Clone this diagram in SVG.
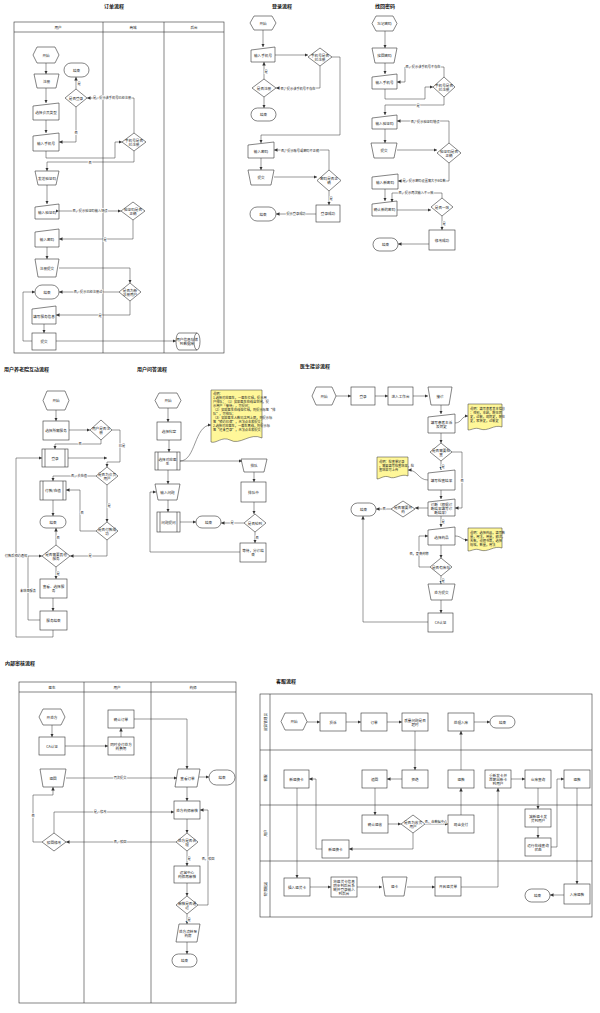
<svg xmlns="http://www.w3.org/2000/svg" width="600" height="1013" viewBox="0 0 600 1013">
<style>
.n{fill:#fff;stroke:#333;stroke-width:.6}
.y{fill:#fff799;stroke:#333;stroke-width:.5}
.s{fill:none;stroke:#333;stroke-width:.6}
.t{font-family:"Noto Sans CJK SC","Noto Sans",sans-serif;font-size:3.6px;text-anchor:middle;dominant-baseline:central;fill:#222}
.tl{font-family:"Noto Sans CJK SC","Noto Sans",sans-serif;font-size:3.2px;dominant-baseline:central;fill:#222}
.h{font-family:"Noto Sans CJK SC","Noto Sans",sans-serif;font-size:5px;font-weight:bold;fill:#111}
.c path{fill:none;stroke:#333;stroke-width:.5;marker-end:url(#a)}
.c text{font-family:"Noto Sans CJK SC","Noto Sans",sans-serif;font-size:3.2px;text-anchor:middle;dominant-baseline:central;fill:#222;paint-order:stroke;stroke:#fff;stroke-width:1.2px}
</style>
<defs><marker id="a" viewBox="0 0 6 6" refX="6" refY="3" markerWidth="3.5" markerHeight="3.5" markerUnits="userSpaceOnUse" orient="auto"><path d="M0 0L6 3L0 6z" fill="#333"/></marker></defs>
<rect width="600" height="1013" fill="#fff"/>

<!-- Titles -->
<text class="h" x="104" y="8">订单流程</text>
<text class="h" x="272" y="8">登录流程</text>
<text class="h" x="375" y="8">找回密码</text>
<text class="h" x="4" y="371">用户养老院互动流程</text>
<text class="h" x="137" y="371">用户问答流程</text>
<text class="h" x="300" y="368">医生接诊流程</text>
<text class="h" x="5" y="665">内部审核流程</text>
<text class="h" x="276" y="683">客服流程</text>

<!-- Swimlanes -->
<g id="lanes-order" class="s">
<rect x="14" y="22" width="210" height="331"/><line x1="14" y1="32" x2="224" y2="32"/><line x1="103" y1="22" x2="103" y2="353"/><line x1="164" y1="22" x2="164" y2="353"/>
</g>
<text class="t" x="58" y="27">用户</text><text class="t" x="133" y="27">商城</text><text class="t" x="194" y="27">后台</text>
<g id="lanes-audit" class="s">
<rect x="19" y="682" width="217" height="321"/><line x1="19" y1="692" x2="236" y2="692"/><line x1="84" y1="682" x2="84" y2="1003"/><line x1="151" y1="682" x2="151" y2="1003"/>
</g>
<text class="t" x="52" y="687">医生</text><text class="t" x="117" y="687">用户</text><text class="t" x="193" y="687">药师</text>
<g id="lanes-service" class="s">
<rect x="260" y="694" width="332" height="223"/><line x1="270" y1="694" x2="270" y2="917"/><line x1="260" y1="750" x2="592" y2="750"/><line x1="260" y1="805" x2="592" y2="805"/><line x1="260" y1="861" x2="592" y2="861"/>
</g>
<text class="t" transform="translate(265 722) rotate(-90)">运营管理员</text>
<text class="t" transform="translate(265 778) rotate(-90)">客服</text>
<text class="t" transform="translate(265 833) rotate(-90)">用户</text>
<text class="t" transform="translate(265 889) rotate(-90)">物流配送</text>

<!-- ===== 订单流程 nodes ===== -->
<g id="o-start"><polygon class="n" points="37,47 55,47 59,55 55,63 37,63 33,55"/><text class="t" x="46" y="55">开始</text></g>
<g id="o-reg"><polygon class="n" points="34,74 59,74 56,88 37,88"/><text class="t" x="46.5" y="81">注册</text></g>
<g id="o-type"><polygon class="n" points="33,106 59,103 59,120 33,120"/><text class="t" x="46" y="112.5">选择会员类型</text></g>
<g id="o-phone"><polygon class="n" points="33,136 59,133 59,151 33,151"/><text class="t" x="46" y="143">输入手机号</text></g>
<g id="o-end1"><rect class="n" x="64" y="63" width="25" height="14" rx="7"/><text class="t" x="76.5" y="70">结束</text></g>
<g id="o-login"><polygon class="n" points="76,89 87,98 76,107 65,98"/><text class="t" x="76" y="98">是否登录</text></g>
<g id="o-regd"><polygon class="n" points="134,133 146,142 134,151 122,142"/><text class="t" x="134" y="140">手机号是否</text><text class="t" x="134" y="144">已注册</text></g>
<g id="o-send"><polygon class="n" points="35,171 59,171 56,185 38,185"/><text class="t" x="47" y="178">发送验证码</text></g>
<g id="o-code"><polygon class="n" points="35,207 59,204 59,219 35,219"/><text class="t" x="47" y="212">输入验证码</text></g>
<g id="o-codeok"><polygon class="n" points="133,202 145,211 133,220 121,211"/><text class="t" x="133" y="209">验证码是否</text><text class="t" x="133" y="213">正确</text></g>
<g id="o-pwd"><polygon class="n" points="35,232 59,229 59,247 35,247"/><text class="t" x="47" y="239">输入密码</text></g>
<g id="o-submit"><polygon class="n" points="35,259 59,259 56,277 38,277"/><text class="t" x="47" y="268">注册提交</text></g>
<g id="o-new"><polygon class="n" points="130,283 141,292 130,301 119,292"/><text class="t" x="130" y="290">是否为新</text><text class="t" x="130" y="294">注册用户</text></g>
<g id="o-end2"><rect class="n" x="35" y="285" width="24" height="14" rx="7"/><text class="t" x="47" y="292">结束</text></g>
<g id="o-fill"><polygon class="n" points="32,309 56,306 56,324 32,324"/><text class="t" x="44" y="316">填写服务信息</text></g>
<g id="o-post"><rect class="n" x="32" y="333" width="24" height="17"/><text class="t" x="44" y="341.5">提交</text></g>
<g id="o-db"><path class="n" d="M179 333 H197 A3 8.5 0 0 1 197 350 H179 A3 8.5 0 0 1 179 333Z"/><path class="s" d="M197 333 A3 8.5 0 0 0 197 350"/><text class="t" x="187" y="339.5">用户信息存储</text><text class="t" x="187" y="343.5">到数据库</text></g>

<!-- ===== 登录流程 ===== -->
<g id="l-start"><polygon class="n" points="254,16 272,16 276,23 272,30 254,30 250,23"/><text class="t" x="263" y="23">开始</text></g>
<g id="l-phone"><polygon class="n" points="251,50 275,47 275,62 251,62"/><text class="t" x="263" y="55.5">输入手机号</text></g>
<g id="l-regd"><polygon class="n" points="320,48 332,57 320,66 308,57"/><text class="t" x="320" y="55">手机号是否</text><text class="t" x="320" y="59">已注册</text></g>
<g id="l-isreg"><polygon class="n" points="264,79 276,88 264,97 252,88"/><text class="t" x="264" y="88">是否注册</text></g>
<g id="l-end1"><rect class="n" x="251" y="108" width="25" height="13" rx="6.5"/><text class="t" x="263.5" y="114.5">结束</text></g>
<g id="l-pwd"><polygon class="n" points="248,145 274,142 274,158 248,158"/><text class="t" x="261" y="151">输入密码</text></g>
<g id="l-sub"><polygon class="n" points="248,170 274,170 271,185 251,185"/><text class="t" x="261" y="177.5">提交</text></g>
<g id="l-ok"><polygon class="n" points="329,170 341,180.5 329,191 317,180.5"/><text class="t" x="329" y="178.5">密码是否正</text><text class="t" x="329" y="182.5">确</text></g>
<g id="l-succ"><rect class="n" x="316" y="205" width="24" height="17"/><text class="t" x="328" y="213.5">登录成功</text></g>
<g id="l-end2"><rect class="n" x="250" y="207" width="26" height="14" rx="7"/><text class="t" x="263" y="214">结束</text></g>

<!-- ===== 找回密码 ===== -->
<g id="f-start"><polygon class="n" points="376,16 393,16 397,23.5 393,31 376,31 372,23.5"/><text class="t" x="384.5" y="23.5">忘记密码</text></g>
<g id="f-find"><polygon class="n" points="372,48 397,48 394,63 375,63"/><text class="t" x="384.5" y="55.5">找回密码</text></g>
<g id="f-phone"><polygon class="n" points="372,77 397,74 397,89 372,89"/><text class="t" x="384.5" y="82.5">输入手机号</text></g>
<g id="f-regd"><polygon class="n" points="444,77 455,87 444,97 433,87"/><text class="t" x="444" y="85">手机号是否</text><text class="t" x="444" y="89">已注册</text></g>
<g id="f-code"><polygon class="n" points="372,118 397,115 397,129 372,129"/><text class="t" x="384.5" y="123">输入验证码</text></g>
<g id="f-sub"><polygon class="n" points="371,143 397,143 394,158 374,158"/><text class="t" x="384" y="150.5">提交</text></g>
<g id="f-ok"><polygon class="n" points="449,143 461,153 449,163 437,153"/><text class="t" x="449" y="151">验证码是否</text><text class="t" x="449" y="155">正确</text></g>
<g id="f-new"><polygon class="n" points="372,177 398,174 398,189 372,189"/><text class="t" x="385" y="182.5">输入新密码</text></g>
<g id="f-conf"><polygon class="n" points="372,204 397,201 397,216 372,216"/><text class="t" x="384.5" y="209.5">确认新的密码</text></g>
<g id="f-same"><polygon class="n" points="442,198 453,207 442,216 431,207"/><text class="t" x="442" y="207">是否一致</text></g>
<g id="f-succ"><rect class="n" x="429" y="230" width="26" height="20"/><text class="t" x="442" y="240">修改成功</text></g>
<g id="f-end"><rect class="n" x="373" y="238" width="25" height="13" rx="6.5"/><text class="t" x="385.5" y="244.5">结束</text></g>

<!-- ===== 用户养老院互动流程 ===== -->
<g id="h-start"><polygon class="n" points="47,391 65,391 69,400.5 65,410 47,410 43,400.5"/><text class="t" x="56" y="400.5">开始</text></g>
<g id="h-sel"><rect class="n" x="43" y="421" width="26" height="19"/><text class="t" x="56" y="430.5">选择所需服务</text></g>
<g id="h-reg"><polygon class="n" points="101,420 112,430 101,440 90,430"/><text class="t" x="101" y="428">用户是否注</text><text class="t" x="101" y="432">册</text></g>
<g id="h-login"><rect class="n" x="42" y="449" width="26" height="18"/><path class="s" d="M45 449V467M65 449V467"/><text class="t" x="55" y="458">登录</text></g>
<g id="h-vip"><polygon class="n" points="107,467 118,476 107,485 96,476"/><text class="t" x="107" y="474">是否为会员</text><text class="t" x="107" y="478">用户</text></g>
<g id="h-pay"><rect class="n" x="40" y="481" width="26" height="19"/><path class="s" d="M43 481V500M63 481V500"/><text class="t" x="53" y="490.5">付款/充值</text></g>
<g id="h-paid"><polygon class="n" points="107,522 118,531 107,540 96,531"/><text class="t" x="107" y="529">是否付款成</text><text class="t" x="107" y="533">功</text></g>
<g id="h-end"><rect class="n" x="40" y="516" width="26" height="12" rx="6"/><text class="t" x="53" y="522">结束</text></g>
<g id="h-more"><polygon class="n" points="56,545 70,556 56,567 42,556"/><text class="t" x="56" y="554">是否需要其他</text><text class="t" x="56" y="558">服务</text></g>
<g id="h-view"><rect class="n" x="40" y="579" width="27" height="19"/><text class="t" x="53.5" y="586.5">查看、选择服</text><text class="t" x="53.5" y="590.5">务</text></g>
<g id="h-done"><rect class="n" x="40" y="611" width="27" height="19"/><text class="t" x="53.5" y="620.5">服务结束</text></g>

<!-- ===== 用户问答流程 ===== -->
<g id="q-start"><polygon class="n" points="159,393 177,393 181,400.5 177,408 159,408 155,400.5"/><text class="t" x="168" y="400.5">开始</text></g>
<g id="q-dept"><rect class="n" x="157" y="422" width="24" height="18"/><text class="t" x="169" y="431">选择科室</text></g>
<g id="q-doc"><rect class="n" x="155" y="452" width="25" height="18"/><path class="s" d="M158 452V470M177 452V470"/><text class="t" x="167.5" y="459">选择对应医</text><text class="t" x="167.5" y="463">生</text></g>
<g id="q-ask"><polygon class="n" points="155,484 180,484 177,500 158,500"/><text class="t" x="167.5" y="492">输入问题</text></g>
<g id="q-post"><rect class="n" x="157" y="512" width="23" height="20"/><path class="s" d="M160 512V532M177 512V532"/><text class="t" x="168.5" y="522">问题提问</text></g>
<g id="q-end"><rect class="n" x="196" y="516" width="25" height="12" rx="6"/><text class="t" x="208.5" y="522">结束</text></g>
<g id="q-note"><path class="y" d="M211 390 H262 V438 C250 432 240 446 230 440 C222 436 216 444 211 442Z"/>
<text class="tl" x="213" y="393">说明：</text>
<text class="tl" x="213" y="397">1.选择对应医生，一医生忙碌，提示用</text>
<text class="tl" x="213" y="401">户排队；（1）如果医生在线且空闲，提</text>
<text class="tl" x="213" y="405">示用户「接待」，可提问；</text>
<text class="tl" x="213" y="409">（2）如果医生在线但忙碌，则提示标签“排</text>
<text class="tl" x="213" y="413">队”，可排队；</text>
<text class="tl" x="213" y="417">（3）如果医生人数已达到上限，则提示标</text>
<text class="tl" x="213" y="421">签“预约已满”，无法点击和提交；</text>
<text class="tl" x="213" y="425">2.选择对应医生，一医生离线，则提示标</text>
<text class="tl" x="213" y="429">签“还未登录”，无法点击和提交</text></g>
<g id="q-queue"><polygon class="n" points="241,459 267,459 264,472 244,472"/><text class="t" x="254" y="465.5">排队</text></g>
<g id="q-wait"><rect class="n" x="241" y="482" width="25" height="20"/><text class="t" x="253.5" y="492">排队中</text></g>
<g id="q-turn"><polygon class="n" points="255,514 266,523 255,532 244,523"/><text class="t" x="255" y="523">是否轮到</text></g>
<g id="q-cancel"><rect class="n" x="240" y="543" width="26" height="19"/><text class="t" x="253" y="550.5">等待，分诊结</text><text class="t" x="253" y="554.5">束</text></g>

<!-- ===== 医生接诊流程 ===== -->
<g id="d-start"><polygon class="n" points="316,387 332,387 336,396 332,405 316,405 312,396"/><text class="t" x="324" y="396">开始</text></g>
<g id="d-login"><rect class="n" x="351" y="387" width="24" height="18"/><text class="t" x="363" y="396">登录</text></g>
<g id="d-desk"><rect class="n" x="388" y="387" width="25" height="18"/><text class="t" x="400.5" y="396">进入工作台</text></g>
<g id="d-recv"><polygon class="n" points="428,387 452,387 449,405 431,405"/><text class="t" x="440" y="396">接诊</text></g>
<g id="d-hist"><polygon class="n" points="428,417 455,414 455,433 428,433"/><text class="t" x="441.5" y="422">填写患者主诉</text><text class="t" x="441.5" y="426">及病史</text></g>
<g id="d-note1"><path class="y" d="M468 404 H502 V427 C494 424 488 432 480 429 C475 427 472 430 468 430Z"/>
<text class="tl" x="470" y="408">说明：填写患者基本信息</text><text class="tl" x="470" y="412">：性别，年龄，既往病</text><text class="tl" x="470" y="416">史，过敏，现病史，既往</text><text class="tl" x="470" y="420">史，家族史，过敏史</text></g>
<g id="d-chk"><polygon class="n" points="441,443 452,452 441,461 430,452"/><text class="t" x="441" y="450">是否需要检</text><text class="t" x="441" y="454">查</text></g>
<g id="d-res"><polygon class="n" points="428,473 455,470 455,490 428,490"/><text class="t" x="441.5" y="480.5">填写检查结果</text></g>
<g id="d-note2"><path class="y" d="M377 457 H408 V476 C401 473 395 480 389 477 C384 475 380 479 377 479Z"/>
<text class="tl" x="379" y="461">说明：检查单记录</text><text class="tl" x="379" y="465">，需要填写检查结果，检</text><text class="tl" x="379" y="469">查结果可上传</text></g>
<g id="d-diag"><polygon class="n" points="428,502 455,499 455,516 428,516"/><text class="t" x="441.5" y="504.5">诊断（根据诊</text><text class="t" x="441.5" y="508.5">断结果填写诊</text><text class="t" x="441.5" y="512.5">断结果）</text></g>
<g id="d-med"><polygon class="n" points="403,501 415,509 403,517 391,509"/><text class="t" x="403" y="507">是否需要开</text><text class="t" x="403" y="511">药</text></g>
<g id="d-end"><rect class="n" x="351" y="503" width="25" height="13" rx="6.5"/><text class="t" x="363.5" y="509.5">结束</text></g>
<g id="d-drug"><polygon class="n" points="428,530 455,527 455,545 428,545"/><text class="t" x="441.5" y="537">选择药品</text></g>
<g id="d-note3"><path class="y" d="M468 528 H502 V548 C494 545 488 553 480 550 C475 548 472 551 468 551Z"/>
<text class="tl" x="470" y="532">说明：选择药品，填写数</text><text class="tl" x="470" y="536">量，用法，用量，频次，</text><text class="tl" x="470" y="540">天数，说明书等，选择</text><text class="tl" x="470" y="544">规格，数量，用法</text></g>
<g id="d-stock"><polygon class="n" points="441,558 452,567 441,576 430,567"/><text class="t" x="441" y="567">是否有库存</text></g>
<g id="d-rx"><polygon class="n" points="428,584 455,584 452,600 431,600"/><text class="t" x="441.5" y="592">处方提交</text></g>
<g id="d-ca"><rect class="n" x="428" y="613" width="25" height="19"/><text class="t" x="440.5" y="622.5">CA认证</text></g>

<!-- ===== 内部审核流程 ===== -->
<g id="a-start"><polygon class="n" points="43,709 61,709 65,717 61,725 43,725 39,717"/><text class="t" x="52" y="717">开处方</text></g>
<g id="a-ca"><rect class="n" x="39" y="737" width="26" height="18"/><text class="t" x="52" y="746">CA认证</text></g>
<g id="a-ord"><rect class="n" x="108" y="710" width="26" height="18"/><text class="t" x="121" y="719">确认订单</text></g>
<g id="a-pay"><rect class="n" x="108" y="737" width="26" height="18"/><text class="t" x="121" y="744">同时支付处方</text><text class="t" x="121" y="748">药费用</text></g>
<g id="a-back"><polygon class="n" points="40,769 66,769 63,787 43,787"/><text class="t" x="53" y="778">退回</text></g>
<g id="a-rej"><polygon class="n" points="54,833 66,842 54,851 42,842"/><text class="t" x="54" y="842">驳回修改</text></g>
<g id="a-view"><polygon class="n" points="178,769 200,769 197,787 175,787"/><text class="t" x="187.5" y="778">查看订单</text></g>
<g id="a-end1"><rect class="n" x="209" y="770" width="26" height="15" rx="7.5"/><text class="t" x="222" y="777.5">结束</text></g>
<g id="a-ph"><rect class="n" x="174" y="801" width="26" height="18"/><text class="t" x="187" y="810">处方药师审核</text></g>
<g id="a-ok"><polygon class="n" points="187,833 198,842 187,851 176,842"/><text class="t" x="187" y="840">处方是否合</text><text class="t" x="187" y="844">理</text></g>
<g id="a-op"><rect class="n" x="174" y="866" width="26" height="17"/><text class="t" x="187" y="872.5">运营中心</text><text class="t" x="187" y="876.5">药师再审核</text></g>
<g id="a-pass"><polygon class="n" points="187,896 198,905 187,914 176,905"/><text class="t" x="187" y="903">审核是否通</text><text class="t" x="187" y="907">过</text></g>
<g id="a-flow"><polygon class="n" points="179,924 200,924 197,942 176,942"/><text class="t" x="188" y="931">处方流转至</text><text class="t" x="188" y="935">药房</text></g>
<g id="a-end2"><rect class="n" x="172" y="954" width="25" height="13" rx="6.5"/><text class="t" x="184.5" y="960.5">结束</text></g>

<!-- ===== 客服流程 ===== -->
<g id="k-start"><polygon class="n" points="285,713 303,713 307,721.5 303,730 285,730 281,721.5"/><text class="t" x="294" y="721.5">开始</text></g>
<g id="k-comp"><rect class="n" x="320" y="713" width="26" height="18"/><text class="t" x="333" y="722">投诉</text></g>
<g id="k-ord"><rect class="n" x="361" y="713" width="26" height="18"/><text class="t" x="374" y="722">订单</text></g>
<g id="k-qual"><rect class="n" x="402" y="713" width="26" height="18"/><text class="t" x="415" y="720">质量问题是否</text><text class="t" x="415" y="724">超时</text></g>
<g id="k-store"><rect class="n" x="448" y="713" width="26" height="18"/><text class="t" x="461" y="722">处理入库</text></g>
<g id="k-end1"><rect class="n" x="490" y="716" width="25" height="12" rx="6"/><text class="t" x="502.5" y="722">结束</text></g>
<g id="k-newcard"><rect class="n" x="284" y="770" width="25" height="18"/><text class="t" x="296.5" y="779">新退换卡</text></g>
<g id="k-recall"><rect class="n" x="362" y="770" width="25" height="18"/><text class="t" x="374.5" y="779">追回</text></g>
<g id="k-refuse"><rect class="n" x="402" y="770" width="26" height="18"/><text class="t" x="415" y="779">拒绝</text></g>
<g id="k-refund"><rect class="n" x="448" y="770" width="26" height="18"/><text class="t" x="461" y="779">退款</text></g>
<g id="k-resend"><rect class="n" x="485" y="770" width="26" height="18"/><text class="t" x="498" y="775">重新发卡并</text><text class="t" x="498" y="779">且寄出新卡</text><text class="t" x="498" y="783">到用户</text></g>
<g id="k-query"><rect class="n" x="525" y="770" width="26" height="18"/><text class="t" x="538" y="779">仓库查询</text></g>
<g id="k-refund2"><rect class="n" x="564" y="770" width="26" height="18"/><text class="t" x="577" y="779">退款</text></g>
<g id="k-confirm"><rect class="n" x="362" y="815" width="26" height="18"/><text class="t" x="375" y="824">确认退收</text></g>
<g id="k-isuser"><polygon class="n" points="413,815 425,824 413,833 401,824"/><text class="t" x="413" y="822">是否为收货</text><text class="t" x="413" y="826">用户</text></g>
<g id="k-cash"><rect class="n" x="448" y="815" width="26" height="18"/><text class="t" x="461" y="824">现金支付</text></g>
<g id="k-newcard2"><rect class="n" x="322" y="840" width="27" height="18"/><text class="t" x="335.5" y="849">新退换卡</text></g>
<g id="k-ship"><rect class="n" x="525" y="809" width="26" height="18"/><text class="t" x="538" y="816">减新退卡发</text><text class="t" x="538" y="820">货到用户</text></g>
<g id="k-online"><rect class="n" x="525" y="838" width="26" height="18"/><text class="t" x="538" y="845">运行在线查询</text><text class="t" x="538" y="849">状态</text></g>
<g id="k-insert"><rect class="n" x="284" y="878" width="26" height="18"/><text class="t" x="297" y="887">插入退货卡</text></g>
<g id="k-gen"><rect class="n" x="331" y="877" width="26" height="20"/><text class="t" x="344" y="881">将退货卡信息</text><text class="t" x="344" y="885">同步到后台系</text><text class="t" x="344" y="889">统并登录输入</text><text class="t" x="344" y="893">到后台</text></g>
<g id="k-card"><polygon class="n" points="382,877 407,877 404,896 385,896"/><text class="t" x="394.5" y="886.5">退卡</text></g>
<g id="k-bill"><rect class="n" x="435" y="877" width="26" height="19"/><text class="t" x="448" y="886.5">开具退货单</text></g>
<g id="k-end2"><rect class="n" x="525" y="889" width="25" height="13" rx="6.5"/><text class="t" x="537.5" y="895.5">结束</text></g>
<g id="k-in"><rect class="n" x="564" y="884" width="26" height="20"/><text class="t" x="577" y="894">入库退款</text></g>

<!-- ===== Connectors ===== -->
<g id="connectors" class="c">
<path d="M46 63V74"/><path d="M46 88V103"/><path d="M46 120V133"/>
<path d="M134 133V98H87"/><text x="112" y="97">是，提示该手机号已经注册</text>
<path d="M76 89V77"/><text x="79" y="83">是</text>
<path d="M76 107V142H59"/><text x="76" y="132">否</text>
<path d="M46 151V158H115V142H122"/>
<path d="M134 151V162H47V171"/><text x="90" y="162">否</text>
<path d="M47 185V204"/>
<path d="M59 211H121" style="marker-start:url(#a)"/><text x="90" y="210">否，提示验证码输入错误</text>
<path d="M133 220V239H59"/><text x="105" y="239">是</text>
<path d="M47 247V259"/>
<path d="M59 268H130V283"/>
<path d="M119 292H59"/><text x="88" y="291">否，提示已经注册过</text>
<path d="M130 301V315H56"/><text x="100" y="315">是</text>
<path d="M44 324V333"/>
<path d="M32 341H23V292H35"/>
<path d="M56 341H176"/>

<path d="M263 30V47"/><path d="M275 55H308"/>
<path d="M320 66V88H276"/><text x="298" y="88">否，提示该手机号不存在</text>
<path d="M264 79V62"/><text x="266" y="71">是</text>
<path d="M264 97V108"/>
<path d="M332 57H340V135H261V143"/>
<path d="M261 158V170"/><path d="M274 177H317"/>
<path d="M329 170V150H274"/><text x="300" y="150">否，提示账号或密码不正确</text>
<path d="M329 191V205"/><text x="331" y="198">是</text>
<path d="M316 214H276"/><text x="296" y="213">提示登录成功</text>

<path d="M385 31V48"/><path d="M385 63V74"/>
<path d="M444 77V67H405V82H397"/><text x="423" y="66">否，提示该手机号不存在</text>
<path d="M385 89V99H425V87H433"/>
<path d="M444 97V105H385V115"/><text x="418" y="105">是</text>
<path d="M385 129V143"/><path d="M397 150H437"/>
<path d="M449 143V121H397"/><text x="425" y="121">否，提示验证码错误</text>
<path d="M449 163V181H398"/><text x="424" y="180">是，提示密码设置需大于6位数</text>
<path d="M385 189V201"/>
<path d="M442 198V193H392V202"/><text x="416" y="192">否，提示两次输入不一致</text>
<path d="M397 210H431"/>
<path d="M442 216V230"/><text x="444" y="223">是</text>
<path d="M429 244H398"/>

<path d="M56 410V421"/><path d="M69 430H90"/>
<path d="M112 430H120V462H107V467"/><text x="122" y="445">已是</text>
<path d="M101 440V444H55V449"/><text x="80" y="443">否</text>
<path d="M68 458H107"/>
<path d="M96 476H53V481"/><text x="79" y="475">否，去充值</text>
<path d="M107 485V522"/><text x="109" y="505">是</text>
<path d="M96 531H80V490H66"/><text x="82" y="512">否</text>
<path d="M53 500V516"/>
<path d="M107 540V556H70"/><text x="90" y="555">是</text>
<path d="M56 545V528"/><text x="58" y="537">否</text>
<path d="M56 567V579"/><text x="58" y="573">是</text>
<path d="M53 598V611"/>
<path d="M40 620H28V556H42"/><text x="28" y="590">未结束服务</text>
<path d="M53 630V637H16V458H42"/><text x="16" y="555">付款后预约通知</text>

<path d="M168 408V422"/><path d="M169 440V452"/><path d="M168 470V484"/><path d="M168 500V512"/>
<path d="M180 522H196"/>
<path d="M180 461C196 461 194 425 211 425"/>
<path d="M180 461H242"/>
<path d="M254 472V482"/><path d="M254 502V514"/>
<path d="M244 523H221"/><text x="232" y="522">是</text>
<path d="M255 532V543"/><text x="257" y="537">否</text>
<path d="M240 552H150V492H156"/>

<path d="M336 396H351"/><path d="M375 396H388"/><path d="M413 396H428"/>
<path d="M441 405V414"/>
<path d="M455 423C462 423 461 416 468 416"/>
<path d="M441 433V443"/>
<path d="M441 461V470"/><text x="443" y="466">是</text>
<path d="M452 452H462V508H455"/><text x="462" y="480">否</text>
<path d="M441 490V499"/>
<path d="M428 480C418 480 418 470 408 470"/>
<path d="M428 508H415"/>
<path d="M391 509H376"/><text x="384" y="508">否</text>
<path d="M441 516V527"/><text x="443" y="521">是</text>
<path d="M455 536C462 536 461 540 468 540"/>
<path d="M441 545V558"/>
<path d="M430 567H419V536H428"/><text x="419" y="553">否，更换药物</text>
<path d="M441 576V584"/><text x="443" y="580">是</text>
<path d="M441 600V613"/>
<path d="M428 622H363V516"/>

<path d="M52 725V737"/><path d="M65 746H108"/><path d="M121 737V728"/>
<path d="M134 719H187V769"/>
<path d="M66 778H177"/><text x="120" y="777">再次提交</text>
<path d="M199 777H209"/>
<path d="M187 787V801"/><path d="M187 819V833"/>
<path d="M176 842H66"/><text x="120" y="841">否，驳回</text>
<path d="M187 851V866"/><text x="189" y="858">是</text>
<path d="M187 883V896"/>
<path d="M198 905H208V810H200"/><text x="208" y="858">否，驳回</text>
<path d="M187 914V924"/><text x="189" y="919">是</text>
<path d="M187 942V954"/>
<path d="M54 833V812H174"/><text x="100" y="811">是，修改</text>
<path d="M42 842H33V795H53V787"/><text x="33" y="815">否</text>

<path d="M307 722H320"/><path d="M346 722H361"/><path d="M387 722H402"/>
<path d="M415 731V770"/><path d="M402 779H387"/>
<path d="M375 788V815"/><path d="M388 824H401"/>
<path d="M425 824H448"/><text x="436" y="821">否，由数据中心</text>
<path d="M461 815V788"/><path d="M461 770V731"/><path d="M474 722H490"/>
<path d="M413 833V849H349"/>
<path d="M322 849H316V779H309"/>
<path d="M297 788V878"/>
<path d="M310 887H331"/><path d="M357 887H382"/><path d="M407 887H435"/>
<path d="M461 887H498V788"/>
<path d="M511 779H525"/>
<path d="M538 788V809"/><path d="M538 827V838"/>
<path d="M551 847H557V779H564"/>
<path d="M577 788V884"/>
<path d="M564 895H550"/>
</g>
</svg>
